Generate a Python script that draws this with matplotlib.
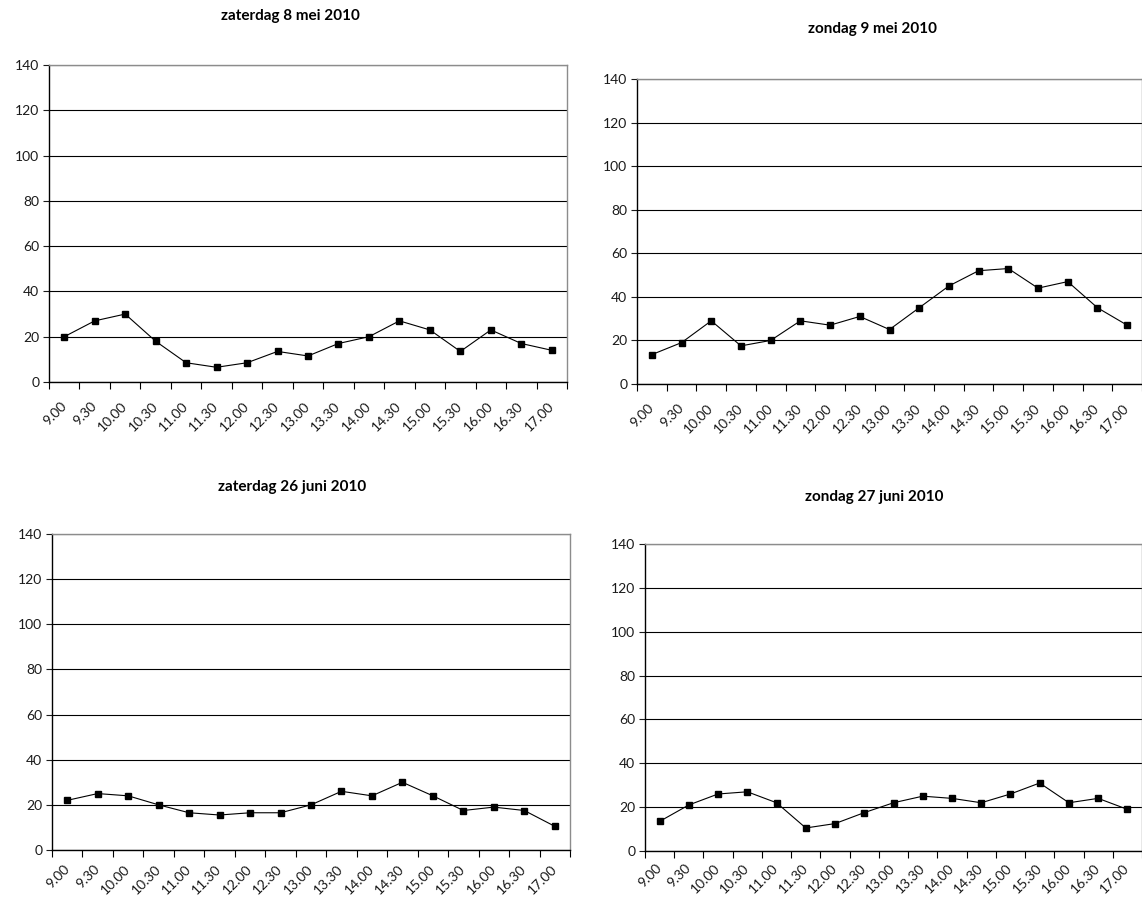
from __future__ import annotations

import matplotlib
matplotlib.use("Agg")
import matplotlib.pyplot as plt
from matplotlib.ticker import FixedLocator

# Data
times = ["9.00", "9.30", "10.00", "10.30", "11.00", "11.30", "12.00", "12.30",
         "13.00", "13.30", "14.00", "14.30", "15.00", "15.30", "16.00", "16.30", "17.00"]

titles = ["zaterdag 8 mei 2010", "zondag 9 mei 2010",
          "zaterdag 26 juni 2010", "zondag 27 juni 2010"]

za_8_mei = [20, 27, 30, 18, 8.5, 6.5, 8.5, 13.5, 11.5, 17, 20, 27, 23, 13.5, 23, 17, 14]
zo_9_mei = [13.5, 19, 29, 17.5, 20, 29, 27, 31, 25, 35, 45, 52, 53, 44, 47, 35, 27]
za_26_juni = [22, 25, 24, 20, 16.5, 15.5, 16.5, 16.5, 20, 26, 24, 30, 24, 17.5, 19, 17.5, 10.5]
zo_27_juni = [13.5, 21, 26, 27, 22, 10.5, 12.5, 17.5, 22, 25, 24, 22, 26, 31, 22, 24, 19]

y_ticks = [0, 20, 40, 60, 80, 100, 120, 140]

W, H = 1142, 900


def px_rect(left, right, top, bottom):
    # pixel box -> figure fraction
    return [left / W, 1 - bottom / H, (right - left) / W, (bottom - top) / H]


def draw_panel(fig, box, title, title_xy, values, label_pad) -> None:
    ax = fig.add_axes(px_rect(*box))
    x = list(range(len(values)))
    ax.plot(x, values, color="black", linewidth=0.8, marker="s",
            markersize=5, markerfacecolor="black", markeredgecolor="black",
            clip_on=False, zorder=3)

    ax.set_xlim(-0.5, len(times) - 0.5)
    ax.set_ylim(0, 140)

    # y axis
    ax.set_yticks(y_ticks)
    ax.yaxis.grid(True, color="black", linewidth=0.8)
    ax.set_axisbelow(True)
    ax.tick_params(axis="y", direction="out", length=4, width=0.8,
                   labelsize=10, pad=3, colors="#1a1a1a")

    # x axis: labels at category centres, ticks between categories
    ax.set_xticks(x)
    ax.set_xticklabels(times, rotation=45, ha="right", va="center",
                       rotation_mode="anchor")
    ax.xaxis.set_minor_locator(FixedLocator([i - 0.5 for i in range(len(times) + 1)]))
    ax.tick_params(axis="x", which="major", length=0, labelsize=10, pad=label_pad,
                   labelcolor="#1a1a1a")
    ax.tick_params(axis="x", which="minor", direction="out", length=5, width=0.8)

    # Frame
    ax.spines["left"].set_color("black")
    ax.spines["bottom"].set_color("black")
    ax.spines["top"].set_color("#8c8c8c")
    ax.spines["right"].set_color("#8c8c8c")
    for spine in ax.spines.values():
        spine.set_linewidth(1.0)

    fig.text(title_xy[0] / W, 1 - title_xy[1] / H, title, ha="center",
             va="center", fontsize=11, fontweight="bold")


def main() -> None:
    plt.rcParams["font.family"] = ["Lato", "DejaVu Sans"]

    fig = plt.figure(figsize=(W / 100, H / 100), dpi=100)

    draw_panel(fig, (49, 567, 65, 382), titles[0], (290, 16), za_8_mei, 16)
    draw_panel(fig, (637, 1142, 79, 384), titles[1], (872, 29), zo_9_mei, 16)
    draw_panel(fig, (52, 570, 534, 850), titles[2], (292, 487), za_26_juni, 12)
    draw_panel(fig, (645, 1142, 544, 851), titles[3], (874, 497), zo_27_juni, 11)

    fig.savefig("out.png", dpi=100)
    plt.close(fig)


if __name__ == "__main__":
    main()
